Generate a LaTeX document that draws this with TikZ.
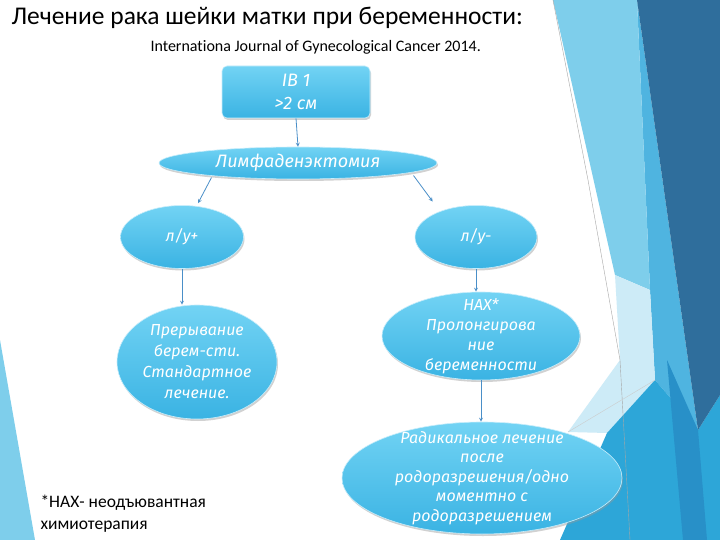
\documentclass[tikz,border=0pt]{standalone}
\usepackage{fontspec}
\setmainfont{Carlito}[Ligatures=NoCommon]
\newfontfamily\ovalfont{Fira Sans}
\usepackage{tikz}
\usepackage{xcolor}
\usetikzlibrary{shapes,arrows,positioning,fit,calc,shadows}

\definecolor{facetdark}{HTML}{2F6E9C}
\definecolor{facetlight}{HTML}{7ECEEB}
\definecolor{facetmid}{HTML}{4FB4E0}
\definecolor{facetpale}{HTML}{CDEBF7}
\definecolor{facetsea}{HTML}{2DA6D8}
\definecolor{facetdeep}{HTML}{2890C8}
\definecolor{ovaltop}{HTML}{72D3F4}
\definecolor{ovalbot}{HTML}{3AB3E3}
\definecolor{arrblue}{HTML}{4A8FC8}

\begin{document}
\begin{tikzpicture}[
        x=1pt, y=-1pt,
        oval/.style={ellipse, draw=white!60!ovaltop, line width=0.6pt, top color=ovaltop, bottom color=ovalbot,
          drop shadow={shadow xshift=1pt, shadow yshift=-2pt, fill=black!40, opacity=0.45},
          inner sep=-30pt, align=center, text=white, font=\ovalfont\itshape\fontsize{16}{20}\selectfont},
        box/.style={rectangle, rounded corners=5pt, draw=white!60!ovaltop, line width=0.6pt, top color=ovaltop, bottom color=ovalbot,
          drop shadow={shadow xshift=1pt, shadow yshift=-2pt, fill=black!40, opacity=0.45},
          minimum width=148pt, minimum height=52pt, align=center, text=white, font=\ovalfont\itshape\fontsize{18}{23}\selectfont},
        arr/.style={-stealth, draw=arrblue, line width=0.8pt}
      ]
        \useasboundingbox (0,0) rectangle (720,540);
        \fill[white] (0,0) rectangle (720,540);

        % facet background
        \fill[facetlight] (0,340) -- (35,540) -- (0,540) -- cycle;
        \fill[facetmid] (637,0) -- (698,430) -- (655,380) -- (650,290) -- cycle;
        \fill[facetlight] (553,0) -- (637,0) -- (650,290) -- (615,275) -- cycle;
        \fill[facetpale] (615,275) -- (650,290) -- (655,380) -- (607,433) -- (568,432) -- (620,360) -- cycle;
        \fill[facetsea] (560,540) -- (607,433) -- (655,380) -- (698,430) -- (720,395) -- (720,540) -- cycle;
        \fill[facetdeep] (667,360) -- (698,430) -- (707,540) -- (683,540) -- cycle;
        \fill[facetdark] (637,0) -- (720,0) -- (720,395) -- (698,430) -- cycle;
        \draw[gray!70, line width=0.4pt] (553,0) -- (588,180) -- (620,360) -- (630,540);
        \draw[gray!40, line width=0.4pt] (568,432) -- (655,380);

        % title
        \node[anchor=west, font=\fontsize{25.5}{28}\selectfont] (title) at (8,18) {Лечение рака шейки матки при беременности:};
        \node[anchor=west, font=\fontsize{16}{18}\selectfont] (src) at (147,47) {Internationa Journal of Gynecological Cancer 2014.};

        % scheme
        \node[box] (ib) at (296,92) {IB 1\\>2 см};
        \node[oval, minimum width=278pt, minimum height=32pt, font=\ovalfont\itshape\fontsize{18}{22}\selectfont] (lymph) at (298,163) {Лимфаденэктомия};
        \node[oval, minimum width=123pt, minimum height=63pt] (lplus) at (182,237) {л/у+};
        \node[oval, minimum width=122pt, minimum height=63pt] (lminus) at (476,237) {л/у-};
        \node[oval, minimum width=160pt, minimum height=114pt, font=\ovalfont\itshape\fontsize{16}{21}\selectfont] (prerv) at (197,362) {Прерывание\\берем-сти.\\Стандартное\\лечение.};
        \node[oval, minimum width=198pt, minimum height=88pt] (nax) at (481,336) {НАХ*\\Пролонгирова\\ние\\беременности};
        \node[oval, minimum width=280pt, minimum height=112pt, font=\ovalfont\itshape\fontsize{16}{19.5}\selectfont] (rad) at (482,478) {Радикальное лечение\\после\\родоразрешения/одно\\моментно с\\родоразрешением};

        \draw[arr] (ib.south) -- (lymph.north);
        \draw[arr] ($(lymph.south west)+(12,3)$) -- ($(lplus.north)+(16,-2)$);
        \draw[arr] ($(lymph.south east)+(17,1)$) -- ($(lminus.north west)+(0,-13)$);
        \draw[arr] (lplus.south) -- (lplus.south |- prerv.north);
        \draw[arr] (lminus.south) -- (lminus.south |- nax.north);
        \draw[arr] (nax.south) -- (nax.south |- rad.north);

        % footnote
        \fill[facetlight] (10,498) -- (18,503) -- (10,508) -- cycle;
        \node[anchor=west, font=\fontsize{17.5}{20}\selectfont] (fn1) at (37,503) {*НАХ- неодъювантная};
        \node[anchor=west, font=\fontsize{17.5}{20}\selectfont] (fn2) at (37,527) {химиотерапия};
      \end{tikzpicture}
\end{document}
